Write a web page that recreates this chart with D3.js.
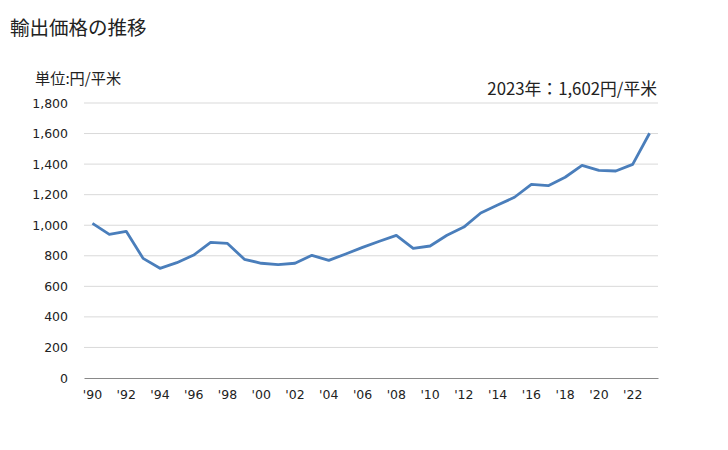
<!DOCTYPE html>
<html><head><meta charset="utf-8">
<script src="https://cdn.jsdelivr.net/npm/d3@7"></script>
<style>body{margin:0;background:#fff;} svg{display:block;}</style>
</head><body>
<svg id="c" width="728" height="450"></svg>
<script>
const years = d3.range(1990, 2024);
const values = [1012, 940, 960, 783, 718, 755, 805, 888, 881, 777, 751, 742, 751, 803, 770, 812, 855, 895, 934, 849, 864, 934, 988, 1080, 1132, 1183, 1268, 1259, 1314, 1392, 1359, 1355, 1398, 1602];
const yTicks = [0, 200, 400, 600, 800, 1000, 1200, 1400, 1600, 1800];
const title = "輸出価格の推移";
const unitLabel = "単位:円/平米";
const note = "2023年：1,602円/平米";

const svg = d3.select("#c");
const mLeft = 84, mRight = 658, mTop = 103, mBottom = 378;
const x = d3.scaleBand().domain(years).range([mLeft, mRight]);
const y = d3.scaleLinear().domain([0, 1800]).range([mBottom, mTop]);
const jp = "'Noto Sans CJK JP', sans-serif";
const num = "'DejaVu Sans', Verdana, sans-serif";

svg.append("text").attr("x", 10).attr("y", 35).attr("font-family", jp).attr("font-size", 19.5).attr("fill", "#222").text(title);
svg.append("text").attr("x", 35).attr("y", 84).attr("font-family", jp).attr("font-size", 15.2).attr("fill", "#222").text(unitLabel);
svg.append("text").attr("x", 657).attr("y", 95).attr("text-anchor", "end").attr("font-family", jp).attr("font-size", 16.8).attr("fill", "#222").text(note);

// gridlines
svg.append("g").selectAll("line").data(yTicks.filter(d => d > 0)).join("line")
  .attr("x1", mLeft).attr("x2", mRight).attr("y1", d => y(d)).attr("y2", d => y(d))
  .attr("stroke", "#d9d9d9").attr("stroke-width", 1);

// y axis labels
const ya = svg.append("g").attr("transform", `translate(${mLeft},0)`)
  .call(d3.axisLeft(y).tickValues(yTicks).tickSize(0).tickPadding(16).tickFormat(d3.format(",")));
ya.select(".domain").remove();
ya.selectAll("text").attr("font-family", num).attr("font-size", 12.5).attr("fill", "#222");

// x axis
const xa = svg.append("g").attr("transform", `translate(0,${mBottom})`)
  .call(d3.axisBottom(x).tickValues(years.filter(d => d % 2 === 0)).tickSize(0).tickPadding(12)
    .tickFormat(d => "'" + String(d).slice(2)));
xa.select(".domain").attr("stroke", "#898989").attr("stroke-width", 1);
xa.selectAll("text").attr("font-family", num).attr("font-size", 12.5).attr("fill", "#222");

// line
const line = d3.line().x((d, i) => x(years[i]) + x.bandwidth() / 2).y(d => y(d));
svg.append("path").datum(values).attr("d", line).attr("fill", "none")
  .attr("stroke", "#4a7ebb").attr("stroke-width", 2.8).attr("stroke-linejoin", "round");
</script>
</body></html>
